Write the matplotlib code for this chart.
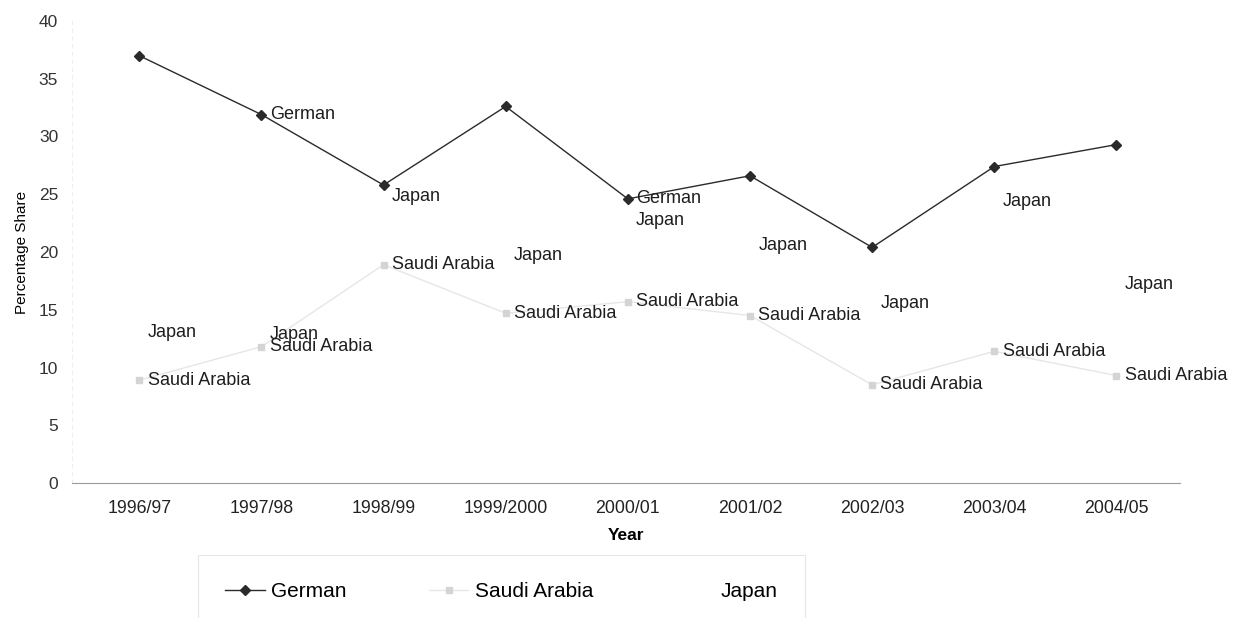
import matplotlib.pyplot as plt

years = ['1996/97', '1997/98', '1998/99', '1999/2000', '2000/01',
         '2001/02', '2002/03', '2003/04', '2004/05']
german = [37.0, 31.9, 25.8, 32.6, 24.6, 26.6, 20.4, 27.4, 29.3]
saudi = [8.9, 11.8, 18.9, 14.7, 15.7, 14.5, 8.5, 11.4, 9.3]
japan = [13.0, 12.9, 24.8, 19.7, 22.7, 20.6, 15.5, 24.4, 17.2]
german_labelled = [1, 4]

plt.rcParams['font.family'] = ['Liberation Sans', 'DejaVu Sans']

fig = plt.figure(figsize=(12.41, 6.18), dpi=100)
ax = fig.add_axes([72 / 1241, 1 - 483 / 618, (1180 - 72) / 1241, (483 - 21) / 618])

x = list(range(len(years)))
ax.plot(x, german, color='#2a2a2a', lw=1.0, marker='D', ms=5, label='German')
ax.plot(x, saudi, color='#e6e6e6', lw=1.0, marker='s', ms=4,
        mfc='#d4d4d4', mec='#d4d4d4', label='Saudi Arabia')
ax.plot(x, japan, color='white', lw=1.0, label='Japan')

def tag(i, v, text):
    ax.annotate(text, (i, v), xytext=(6, 0), textcoords='offset points',
                va='center', ha='left', fontsize=13, color='#1e1e1e')

for i in german_labelled:
    tag(i, german[i], 'German')
for i, v in enumerate(saudi):
    tag(i, v, 'Saudi Arabia')
for i, v in enumerate(japan):
    tag(i, v, 'Japan')

ax.set_xlim(-0.55, 8.52)
ax.set_ylim(0, 40)
ax.set_yticks(range(0, 41, 5))
ax.set_xticks(x)
ax.set_xticklabels(years, fontsize=12.8, color='#222222')
for t in ax.get_yticklabels():
    t.set_fontsize(12.5)
    t.set_color('#333333')
ax.tick_params(length=0, pad=10)
ax.tick_params(axis='x', pad=12)

for s in ['top', 'right']:
    ax.spines[s].set_visible(False)
ax.spines['left'].set_color('#eeeeee')
ax.spines['left'].set_linestyle((0, (3, 4)))
ax.spines['bottom'].set_color('#9a9a9a')

ax.set_xlabel('Year', fontsize=12.5, fontweight='bold', labelpad=8)
ax.set_ylabel('Percentage Share', fontsize=11, labelpad=7)

leg = fig.legend(loc='upper left', bbox_to_anchor=(198 / 1241, 1 - 555 / 618),
                 ncol=3, frameon=True, fancybox=False, fontsize=15,
                 handlelength=1.9, handletextpad=0.3, columnspacing=3.95,
                 borderpad=1.3, borderaxespad=0)
leg.get_frame().set_edgecolor('#e0e0e0')
leg.get_frame().set_linewidth(0.8)

fig.savefig('out.png', dpi=100)
